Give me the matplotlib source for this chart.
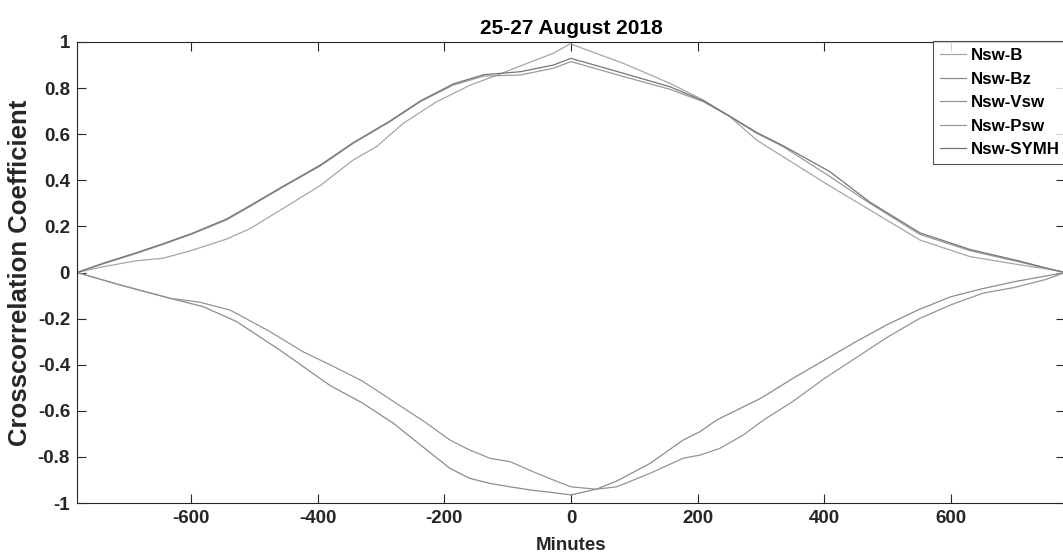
import matplotlib.pyplot as plt

plt.rcParams["font.family"] = ["Liberation Sans", "DejaVu Sans"]
plt.rcParams["font.weight"] = "bold"
plt.rcParams["axes.unicode_minus"] = False

# lags (minutes) and crosscorrelation values
b_lag = [-780, -739, -686, -644, -600, -544, -507, -454, -396, -344, -307, -265, -212, -159,
         -112, -80, -28, 0, 4, 83, 156, 209, 251, 293, 335, 400, 472, 551, 630, 709, 760, 780]
b_cc = [0, 0.025, 0.051, 0.062, 0.095, 0.145, 0.19, 0.279, 0.377, 0.488, 0.546, 0.647, 0.741, 0.813,
        0.861, 0.896, 0.951, 0.994, 0.987, 0.907, 0.821, 0.748, 0.676, 0.575, 0.502, 0.39, 0.271, 0.141,
        0.069, 0.033, 0.012, 0]

up_lag = [-780, -739, -686, -644, -600, -544, -507, -454, -396, -344, -286, -238, -186, -138,
          -80, -28, 0, 83, 156, 209, 251, 293, 335, 409, 472, 551, 630, 709, 761, 780]
psw_cc = [0, 0.037, 0.083, 0.122, 0.165, 0.228, 0.286, 0.372, 0.462, 0.560, 0.654, 0.741, 0.813, 0.852,
          0.857, 0.886, 0.915, 0.850, 0.795, 0.741, 0.676, 0.604, 0.546, 0.416, 0.30, 0.165, 0.095,
          0.045, 0.011, 0]
symh_cc = [0, 0.04, 0.086, 0.125, 0.168, 0.232, 0.29, 0.375, 0.466, 0.563, 0.657, 0.744, 0.818, 0.858,
           0.871, 0.900, 0.929, 0.864, 0.806, 0.745, 0.678, 0.608, 0.55, 0.437, 0.305, 0.172, 0.1,
           0.049, 0.012, 0]

bz_lag = [-780, -712, -633, -581, -528, -460, -380, -330, -280, -230, -191, -160, -128, -96, -60,
          -28, 0, 40, 72, 125, 177, 204, 230, 300, 350, 400, 450, 500, 550, 600, 650, 700, 750, 780]
bz_cc = [0, -0.054, -0.112, -0.148, -0.213, -0.336, -0.491, -0.565, -0.655, -0.765, -0.85, -0.893,
         -0.915, -0.93, -0.945, -0.955, -0.965, -0.94, -0.905, -0.828, -0.727, -0.69, -0.64, -0.545,
         -0.46, -0.38, -0.30, -0.225, -0.16, -0.105, -0.07, -0.04, -0.015, 0]

vsw_lag = [-780, -712, -633, -586, -538, -475, -423, -380, -330, -280, -230, -191, -160, -128, -96,
           -60, -28, 0, 40, 72, 125, 177, 188, 204, 235, 272, 304, 350, 400, 450, 500, 550, 600, 650,
           700, 750, 780]
vsw_cc = [0, -0.054, -0.112, -0.129, -0.163, -0.257, -0.344, -0.401, -0.47, -0.56, -0.65, -0.727,
          -0.77, -0.806, -0.821, -0.864, -0.9, -0.93, -0.94, -0.93, -0.871, -0.806, -0.80, -0.792,
          -0.763, -0.705, -0.64, -0.56, -0.46, -0.37, -0.28, -0.20, -0.14, -0.09, -0.065, -0.03, 0]

series = [
    ("Nsw-B", b_lag, b_cc, "#a6a6a6"),
    ("Nsw-Bz", bz_lag, bz_cc, "#8c8c8c"),
    ("Nsw-Vsw", vsw_lag, vsw_cc, "#959595"),
    ("Nsw-Psw", up_lag, psw_cc, "#9a9a9a"),
    ("Nsw-SYMH", up_lag, symh_cc, "#767676"),
]

fig = plt.figure(figsize=(10.63, 5.6), dpi=100)
ax = fig.add_axes([77 / 1063, 57 / 560, 988 / 1063, 461 / 560])

for name, lag, cc, col in series:
    ax.plot(lag, cc, color=col, linewidth=0.9, label=name)

ax.set_xlim(-780, 780)
ax.set_ylim(-1, 1)
ax.set_xticks([-600, -400, -200, 0, 200, 400, 600])
ax.set_yticks([-1, -0.8, -0.6, -0.4, -0.2, 0, 0.2, 0.4, 0.6, 0.8, 1])
ax.set_yticklabels(["-1", "-0.8", "-0.6", "-0.4", "-0.2", "0", "0.2", "0.4", "0.6", "0.8", "1"])
ax.tick_params(direction="in", length=6.5, width=0.8, color="#262626", labelcolor="#262626",
               labelsize=13.5, top=True, right=True, pad=5)
for s in ax.spines.values():
    s.set_color("#262626")
    s.set_linewidth(0.8)

ax.set_title("25-27 August 2018", fontsize=15, fontweight="bold", pad=6)
ax.set_xlabel("Minutes", fontsize=13.5, fontweight="bold", color="#262626", labelpad=7)
ax.set_ylabel("Crosscorrelation Coefficient", fontsize=18.5, fontweight="bold", color="#262626", labelpad=4)

leg = fig.legend(loc="upper left", bbox_to_anchor=(933 / 1063, 1 - 41 / 560), fontsize=12.2,
                 frameon=True, fancybox=False, edgecolor="#262626", handlelength=1.55,
                 handletextpad=0.25, labelspacing=0.5, borderpad=0.42, borderaxespad=0)
leg.get_frame().set_linewidth(0.8)

plt.savefig("out.png", dpi=100)
